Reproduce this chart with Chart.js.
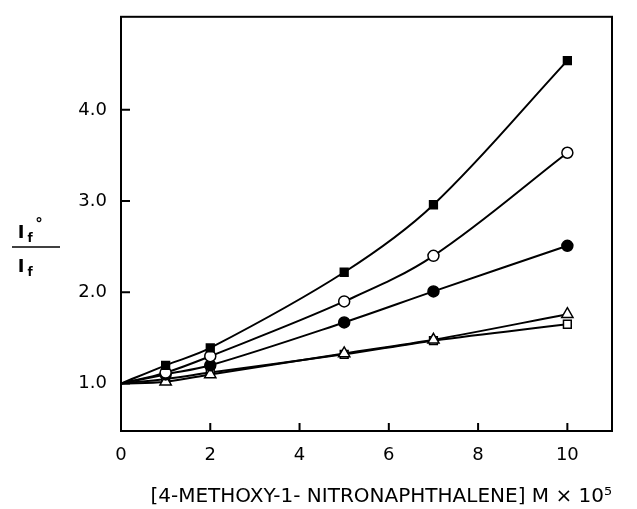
<!DOCTYPE html>
<html>
<head>
<meta charset="utf-8">
<script src="https://cdn.jsdelivr.net/npm/chart.js@4/dist/chart.umd.min.js"></script>
<style>
  html, body { margin: 0; padding: 0; background: #fff; }
  #wrap { width: 637px; height: 509px; }
</style>
</head>
<body>
<div id="wrap"><canvas id="chart"></canvas></div>
<script>
// Concentration of quencher (x 10^5 M), origin point included for the curves
const concentrations = [0, 1, 2, 5, 7, 10];

// I_f°/I_f for each series
const filledSquares = [1.0, 1.20, 1.39, 2.22, 2.96, 4.54];
const openCircles   = [1.0, 1.12, 1.30, 1.90, 2.40, 3.53];
const filledCircles = [1.0, 1.10, 1.20, 1.67, 2.01, 2.51];
const openTriangles = [1.0, 1.02, 1.10, 1.33, 1.48, 1.76];
const openSquares   = [1.0, 1.05, 1.12, 1.32, 1.47, 1.65];

const xTicks = [0, 2, 4, 6, 8, 10];
const yTicks = [1.0, 2.0, 3.0, 4.0];

const FONT = '"DejaVu Sans", sans-serif';

function makeSeries(label, values, style, fill, size) {
    return {
        label: label,
        data: concentrations.map((x, i) => ({ x: x, y: values[i] })),
        borderColor: '#000',
        borderWidth: 2,
        pointStyle: style,
        pointBackgroundColor: fill,
        pointBorderColor: '#000',
        pointBorderWidth: 1.5,
        // no marker at the origin, the curves just start there
        pointRadius: concentrations.map(x => x === 0 ? 0 : size),
        tension: 0.35,
        fill: false
    };
}

// Frame around the plot and inward tick marks
const framePlugin = {
    id: 'frame',
    afterDraw(chart) {
        const { ctx, chartArea: a, scales } = chart;
        ctx.save();
        ctx.strokeStyle = '#000';
        ctx.lineWidth = 2;
        ctx.strokeRect(a.left, a.top, a.right - a.left, a.bottom - a.top);
        ctx.beginPath();
        xTicks.forEach(v => {
            const px = scales.x.getPixelForValue(v);
            ctx.moveTo(px, a.bottom);
            ctx.lineTo(px, a.bottom - 8);
        });
        yTicks.forEach(v => {
            const py = scales.y.getPixelForValue(v);
            ctx.moveTo(a.left, py);
            ctx.lineTo(a.left + 9, py);
        });
        ctx.stroke();

        // y axis label drawn as a fraction
        ctx.fillStyle = '#000';
        ctx.textAlign = 'center';
        ctx.textBaseline = 'alphabetic';
        ctx.font = 'bold 18px ' + FONT;
        ctx.fillText('I', 21, 238);
        ctx.fillText('I', 21, 272);
        ctx.font = 'bold 12px ' + FONT;
        ctx.fillText('f', 30, 242);
        ctx.fillText('f', 30, 276);
        ctx.font = 'bold 15px ' + FONT;
        ctx.fillText('°', 39, 229);
        ctx.lineWidth = 1.5;
        ctx.beginPath();
        ctx.moveTo(12, 247);
        ctx.lineTo(60, 247);
        ctx.stroke();
        ctx.restore();
    }
};

new Chart(document.getElementById('chart'), {
    type: 'line',
    data: {
        datasets: [
            makeSeries('filled squares', filledSquares, 'rect', '#000', 5.5),
            makeSeries('open circles', openCircles, 'circle', '#fff', 5.5),
            makeSeries('filled circles', filledCircles, 'circle', '#000', 5.5),
            makeSeries('open triangles', openTriangles, 'triangle', '#fff', 6.5),
            makeSeries('open squares', openSquares, 'rect', '#fff', 5.5)
        ]
    },
    options: {
        responsive: true,
        maintainAspectRatio: false,
        animation: false,
        layout: { padding: { left: 0, right: 25, top: 13, bottom: 0 } },
        plugins: {
            legend: { display: false },
            tooltip: { enabled: false }
        },
        scales: {
            x: {
                type: 'linear',
                min: 0,
                max: 11,
                border: { display: false },
                grid: { display: false },
                afterBuildTicks: scale => { scale.ticks = xTicks.map(v => ({ value: v })); },
                afterFit: scale => { scale.height = 78; },
                ticks: {
                    color: '#000',
                    padding: 6,
                    font: { family: FONT, size: 18 },
                    callback: v => String(v)
                },
                title: {
                    display: true,
                    align: 'end',
                    text: '[4-METHOXY-1- NITRONAPHTHALENE] M × 10⁵',
                    color: '#000',
                    padding: { top: 12, bottom: 0 },
                    font: { family: FONT, size: 20 }
                }
            },
            y: {
                type: 'linear',
                min: 0.48,
                max: 5.02,
                border: { display: false },
                grid: { display: false },
                afterBuildTicks: scale => { scale.ticks = yTicks.map(v => ({ value: v })); },
                afterFit: scale => { scale.width = 121; },
                ticks: {
                    color: '#000',
                    padding: 6,
                    font: { family: FONT, size: 18 },
                    callback: v => v.toFixed(1)
                }
            }
        }
    },
    plugins: [framePlugin]
});
</script>
</body>
</html>
